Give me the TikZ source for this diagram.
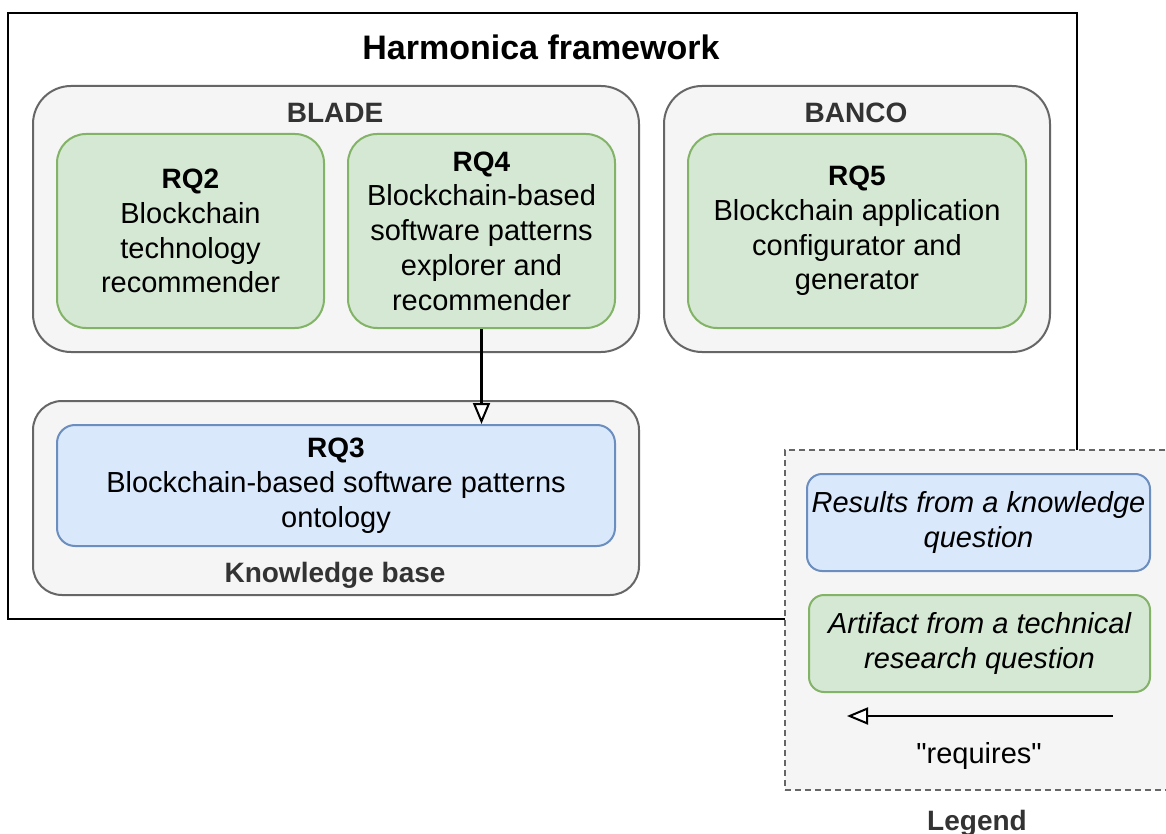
\documentclass[tikz,border=0pt]{standalone}
\usepackage{fontspec}
\setmainfont{Liberation Sans}
\newfontfamily\quotefont{Liberation Sans}
\usetikzlibrary{arrows.meta}
\definecolor{grpfill}{HTML}{F5F5F5}
\definecolor{grpdraw}{HTML}{666666}
\definecolor{grptext}{HTML}{333333}
\definecolor{gfill}{HTML}{D5E8D4}
\definecolor{gdraw}{HTML}{82B366}
\definecolor{bfill}{HTML}{DAE8FC}
\definecolor{bdraw}{HTML}{6C8EBF}
\begin{document}
\begin{tikzpicture}[x=1pt,y=-1pt,
  txt/.style={align=center, inner sep=0pt, font=\fontsize{29}{34.8}\selectfont},
  box/.style={txt, draw, line width=2pt},
  grpbox/.style={box, fill=grpfill, draw=grpdraw},
  rqgreen/.style={box, fill=gfill, draw=gdraw},
  rqblue/.style={box, fill=bfill, draw=bdraw},
  grplabel/.style={txt, anchor=base, text=grptext, font=\fontsize{28}{34.5}\selectfont\bfseries},
  req/.style={draw=black, line width=2.2pt, -{Triangle[open, fill=white, length=21pt, width=17pt, line width=2pt]}}
]
\useasboundingbox[fill=white] (0,0) rectangle (1166,834);
% outer frame
\node[draw=black, line width=2pt, minimum width=1069pt, minimum height=606pt, inner sep=0pt] (frame) at (542.5,316) {};
\node[txt, anchor=base, font=\fontsize{34}{40}\selectfont\bfseries] (title) at (541,60) {Harmonica framework};
% containers
\node[grpbox, rounded corners=38pt, minimum width=606pt, minimum height=266pt] (blade) at (336,219) {};
\node[grplabel] (bladelbl) at (335,123) {BLADE};
\node[grpbox, rounded corners=38pt, minimum width=386pt, minimum height=266pt] (banco) at (857,219) {};
\node[grplabel] (bancolbl) at (856,123) {BANCO};
\node[grpbox, rounded corners=29pt, minimum width=606pt, minimum height=194pt] (kb) at (336,498) {};
\node[grplabel] (kblbl) at (335,582) {Knowledge base};
% RQ boxes
\node[rqgreen, rounded corners=29pt, minimum width=267pt, minimum height=194pt] (rq2) at (190.5,231)
  {{\fontsize{28}{34.8}\selectfont\bfseries RQ2}\\Blockchain\\technology\\recommender};
\node[rqgreen, rounded corners=29pt, minimum width=267pt, minimum height=194pt] (rq4) at (481.5,231)
  {{\fontsize{28}{34.8}\selectfont\bfseries RQ4}\\Blockchain-based\\software patterns\\explorer and\\recommender};
\node[rqgreen, rounded corners=29pt, minimum width=338pt, minimum height=194pt] (rq5) at (857,231)
  {{\fontsize{28}{34.8}\selectfont\bfseries RQ5}\\Blockchain application\\configurator and\\generator};
\node[rqblue, rounded corners=18pt, minimum width=558pt, minimum height=121pt] (rq3) at (336,485.5)
  {{\fontsize{28}{34.8}\selectfont\bfseries RQ3}\\Blockchain-based software patterns\\ontology};
\draw[req] (rq4.south) -- (rq4.south |- rq3.north);
% legend
\node[grpbox, dash pattern=on 6pt off 4pt, minimum width=390pt, minimum height=340pt] (legend) at (980,620) {};
\node[rqblue, rounded corners=15pt, minimum width=343pt, minimum height=97pt] (legblue) at (978.5,522.5)
  {\itshape Results from a knowledge\\\itshape question};
\node[rqgreen, rounded corners=15pt, minimum width=341pt, minimum height=97pt] (leggreen) at (979.5,643.5)
  {\itshape Artifact from a technical\\\itshape research question};
\coordinate (reqstart) at (1113,716);
\coordinate (reqend) at (847,716);
\draw[req] (reqstart) -- (reqend);
\node[txt, anchor=base] (reqlbl) at (979,763) {{\quotefont"}requires{\quotefont"}};
\node[grplabel] (leglbl) at (977,830) {Legend};
\end{tikzpicture}
\end{document}
